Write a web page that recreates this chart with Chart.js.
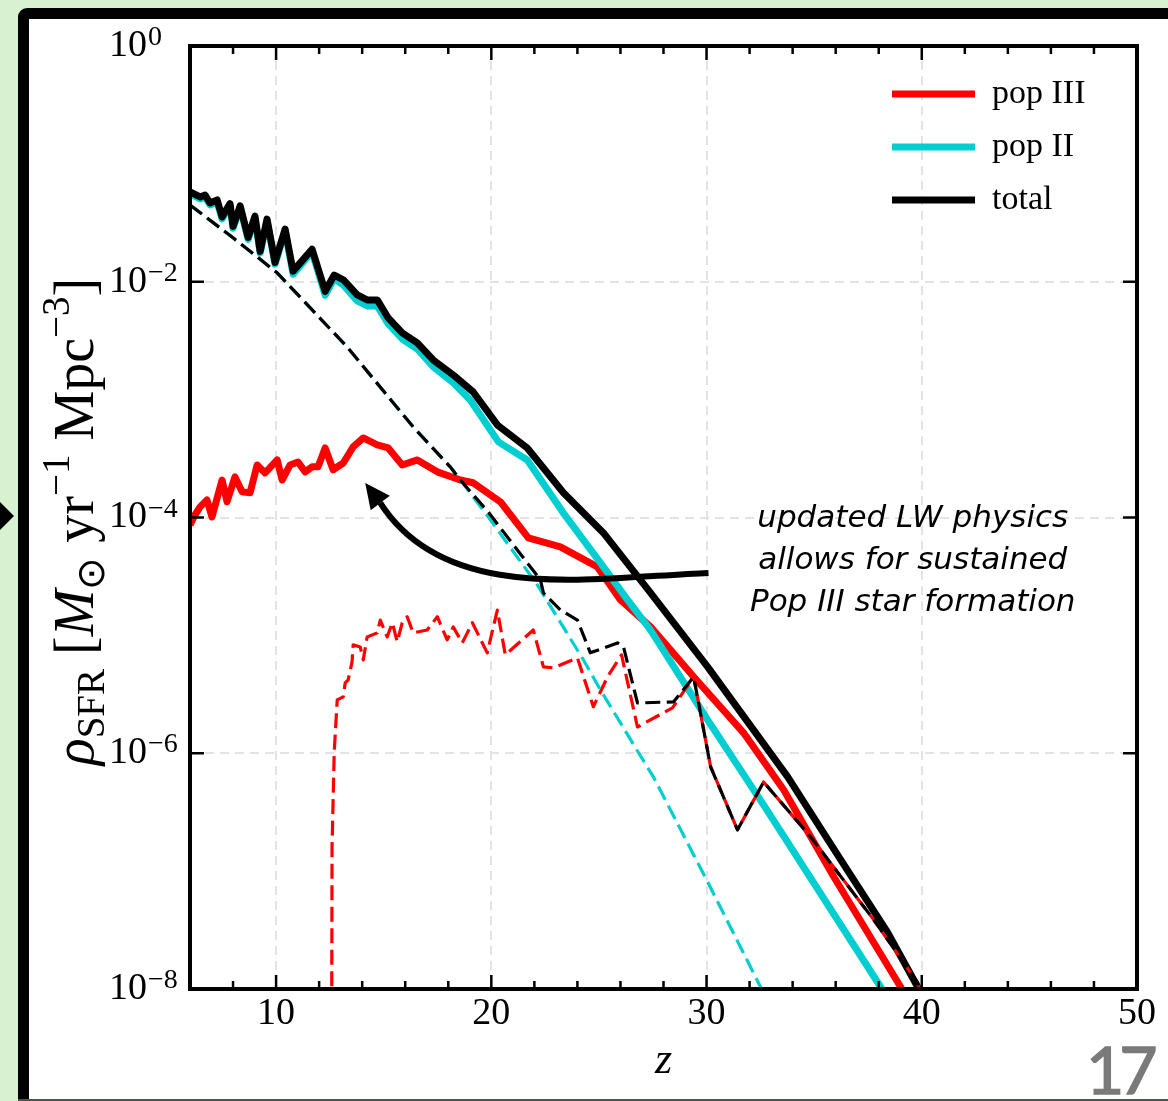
<!DOCTYPE html>
<html><head><meta charset="utf-8">
<script src="https://cdn.jsdelivr.net/npm/chart.js@4.4.1/dist/chart.umd.min.js"></script>
<style>
html,body{margin:0;padding:0;}
body{width:1168px;height:1101px;overflow:hidden;position:relative;background:#d8f1d0;}
#frame{position:absolute;left:18px;top:8px;width:1300px;height:1300px;box-sizing:border-box;border:11px solid #000;border-radius:9px;background:#fff;}
#bline{position:absolute;left:18px;top:1099px;width:1150px;height:2px;background:#4b554b;}
#tri{position:absolute;left:0;top:502px;width:14px;height:28px;background:#000;clip-path:polygon(0 0,100% 50%,0 100%);}
#pg{position:absolute;left:1086px;top:1036px;font:400 66px Lato,sans-serif;letter-spacing:-5px;color:#7a7a7a;line-height:1;-webkit-text-stroke:1.5px #7a7a7a;}
#c{position:absolute;left:0;top:0;}
</style></head><body>
<div id="frame"></div><div id="bline"></div><div id="tri"></div>
<canvas id="c" width="1168" height="1101"></canvas>
<div id="pg">17</div>
<script>
// ---------- data ----------
const popIII_z   = [6.0,6.23,6.47,6.79,7.02,7.49,7.72,8.09,8.42,8.79,9.12,9.49,10.05,10.28,10.65,11.02,11.35,11.67,11.95,12.28,12.65,13.12,13.58,14.05,14.70,15.21,15.86,16.56,17.49,18.56,19.16,20.42,21.72,23.21,24.93,26.0,27.40,29.40,31.72,33.58,35.91,37.49,39.02,39.26];
const popIII_rho = [8.65e-5,1.05e-4,1.23e-4,1.41e-4,1.01e-4,2.08e-4,1.36e-4,2.21e-4,1.65e-4,1.62e-4,2.79e-4,2.39e-4,3.08e-4,2.08e-4,2.79e-4,2.96e-4,2.44e-4,2.69e-4,2.69e-4,3.89e-4,2.54e-4,2.90e-4,3.97e-4,4.73e-4,4.13e-4,3.89e-4,2.79e-4,3.08e-4,2.44e-4,2.08e-4,1.97e-4,1.36e-4,6.71e-5,5.64e-5,3.81e-5,2.00e-5,1.18e-5,4.45e-6,1.49e-6,4.90e-7,8.95e-8,3.00e-8,1.04e-8,8.59e-9];

const popII_z   = [6.0,6.47,6.70,6.93,7.26,7.49,7.86,8.00,8.33,8.70,9.02,9.26,9.58,9.95,10.42,10.79,11.67,12.28,12.70,13.12,13.77,14.23,14.70,15.21,15.86,16.56,17.30,18.23,19.02,20.33,21.67,23.35,25.07,26.33,27.40,30.05,32.74,38.09,38.37];
const popII_rho = [5.56e-2,5.04e-2,5.24e-2,4.48e-2,4.75e-2,3.41e-2,4.42e-2,2.84e-2,4.24e-2,2.29e-2,3.46e-2,1.75e-2,3.27e-2,1.41e-2,2.69e-2,1.16e-2,1.80e-2,7.70e-3,1.06e-2,9.40e-3,6.87e-3,6.24e-3,6.24e-3,4.39e-3,3.27e-3,2.69e-3,1.90e-3,1.39e-3,9.93e-4,4.38e-4,3.08e-4,1.09e-4,4.12e-5,2.00e-5,1.11e-5,1.92e-6,3.44e-7,1.04e-8,8.59e-9];

const total_z   = [6.0,6.47,6.70,6.93,7.26,7.49,7.86,8.00,8.33,8.70,9.02,9.26,9.58,9.95,10.42,10.79,11.67,12.28,12.70,13.12,13.77,14.23,14.70,15.21,15.86,16.56,17.30,18.23,19.16,20.28,21.67,23.35,25.21,27.40,30.05,33.77,36.23,38.42,39.81,40.0];
const total_rho = [5.78e-2,5.24e-2,5.44e-2,4.66e-2,4.94e-2,3.55e-2,4.60e-2,2.95e-2,4.40e-2,2.38e-2,3.60e-2,1.81e-2,3.40e-2,1.46e-2,2.80e-2,1.23e-2,1.89e-2,8.30e-3,1.14e-2,1.04e-2,7.73e-3,7.01e-3,7.01e-3,4.93e-3,3.68e-3,3.03e-3,2.17e-3,1.62e-3,1.16e-3,6.10e-4,3.89e-4,1.62e-4,7.40e-5,2.29e-5,5.41e-6,6.31e-7,1.25e-7,3.00e-8,1.04e-8,8.59e-9];

// dashed comparison model
const popIII_old_z   = [12.58,12.60,12.70,12.84,13.12,13.21,13.35,13.53,13.58,13.91,14.05,14.23,14.70,14.84,15.16,15.40,15.63,15.86,16.09,16.37,17.02,17.49,17.95,18.23,18.65,19.12,19.81,20.28,20.65,21.95,22.42,22.88,24.0,24.74,25.40,26.05,26.79,28.42,29.40,30.19,31.44,32.65,34.84,37.77,39.81,39.95];
const popIII_old_rho = [3.0e-9,1.61e-7,1.01e-6,2.84e-6,3.01e-6,3.95e-6,4.20e-6,5.96e-6,8.30e-6,7.98e-6,6.19e-6,9.70e-6,1.05e-5,1.35e-5,9.70e-6,1.28e-5,8.81e-6,1.28e-5,1.44e-5,1.05e-5,1.11e-5,1.44e-5,9.16e-6,1.18e-5,8.63e-6,1.28e-5,7.11e-6,1.64e-5,6.84e-6,1.11e-5,5.41e-6,5.30e-6,6.44e-6,2.48e-6,4.45e-6,6.84e-6,1.67e-6,2.43e-6,4.45e-6,7.67e-7,2.24e-7,5.71e-7,1.95e-7,3.86e-8,1.13e-8,8.93e-9];

const popII_old_z   = [6.0,8.0,10.05,13.30,16.37,18.09,18.56,19.86,22.14,24.28,25.07,26.84,27.53,30.05,32.51,32.70];
const popII_old_rho = [4.48e-2,2.36e-2,1.19e-2,2.80e-3,5.86e-4,2.69e-4,2.08e-4,1.01e-4,2.68e-5,6.19e-6,3.45e-6,1.01e-6,6.31e-7,8.11e-8,1.04e-8,8.26e-9];

const total_old_z   = [6.0,8.0,10.05,13.30,16.37,18.09,18.56,19.86,21.67,22.28,22.42,23.21,24.0,24.60,25.86,26.14,26.79,28.47,29.40,30.19,31.44,32.65,34.84,37.77,39.81,39.95];
const total_old_rho = [4.48e-2,2.36e-2,1.19e-2,2.80e-3,5.86e-4,2.69e-4,2.08e-4,1.11e-4,4.12e-5,2.96e-5,2.29e-5,1.64e-5,1.35e-5,7.11e-6,8.63e-6,8.00e-6,2.67e-6,2.73e-6,4.45e-6,7.67e-7,2.24e-7,5.71e-7,1.95e-7,3.86e-8,1.13e-8,8.93e-9];

const seriesLabels = ['pop III', 'pop II', 'total'];
const yTickValues  = [1, 1e-2, 1e-4, 1e-6, 1e-8];
const xLabelledTicks = [10, 20, 30, 40, 50];
const xRange = [6, 50];
const yRange = [1e-8, 1];

// annotation (data coordinates)
const noteLines = ['updated LW physics', 'allows for sustained', 'Pop III star formation'];
const noteZ = 39.58;
const noteRho = [8.32e-5, 3.66e-5, 1.61e-5];
const arrowPath = [[30.09, 3.39e-5], [24.60, 3.08e-5], [17.86, 1.82e-5], [14.84, 1.33e-4]];
const arrowTip = [14.14, 1.96e-4];

// y-axis title pieces
const yTitleSegs = [
  {t: 'ρ', it: true}, {t: 'SFR', sc: 0.7, dy: 0.2}, {t: ' ['}, {t: 'M', it: true},
  {t: '⊙', sc: 0.7, dy: 0.2}, {t: ' yr'}, {t: '−1', sc: 0.7, dy: -0.42},
  {t: ' Mpc'}, {t: '−3', sc: 0.7, dy: -0.42}, {t: ']'}
];

// ---------- chart ----------
const SERIF = "'Liberation Serif', serif";
const RED = '#ff0000', CYAN = '#00ced1', BLACK = '#000000';
const pts = (zs, rs) => zs.map((z, i) => ({x: z, y: rs[i]}));

function solid(label, zs, rs, color, order) {
  return {label, data: pts(zs, rs), borderColor: color, backgroundColor: color, borderWidth: 7,
    pointRadius: 0, fill: false, tension: 0, borderJoinStyle: 'round', order, clip: 0};
}
function dashed(label, zs, rs, color, order) {
  return {label, data: pts(zs, rs), borderColor: color, backgroundColor: color, borderWidth: 3.2,
    borderDash: [15, 6.5], pointRadius: 0, fill: false, tension: 0, borderJoinStyle: 'round', order, clip: 0};
}

Chart.defaults.color = '#000';
Chart.defaults.font.family = SERIF;

const decor = {
  id: 'decor',
  afterLayout(chart) {
    const a = chart.chartArea, lg = chart.legend;
    if (lg) { lg.left = a.left + 683; lg.top = a.top + 12; lg.right = a.right; lg.bottom = a.bottom; }
  },
  afterDatasetsDraw(chart) {
    const {ctx, scales: {x: xs, y: ys}} = chart;
    ctx.save();
    const P = arrowPath.map(([z, r]) => [xs.getPixelForValue(z), ys.getPixelForValue(r)]);
    ctx.strokeStyle = '#000'; ctx.fillStyle = '#000'; ctx.lineWidth = 6; ctx.lineCap = 'butt';
    ctx.beginPath(); ctx.moveTo(P[0][0], P[0][1]);
    ctx.bezierCurveTo(P[1][0], P[1][1], P[2][0], P[2][1], P[3][0], P[3][1]); ctx.stroke();
    const T = [xs.getPixelForValue(arrowTip[0]), ys.getPixelForValue(arrowTip[1])];
    const dx = T[0] - P[3][0], dy = T[1] - P[3][1], d = Math.hypot(dx, dy), ux = dx / d, uy = dy / d, hw = 12;
    ctx.beginPath(); ctx.moveTo(T[0], T[1]);
    ctx.lineTo(P[3][0] - uy * hw, P[3][1] + ux * hw);
    ctx.lineTo(P[3][0] + uy * hw, P[3][1] - ux * hw);
    ctx.closePath(); ctx.fill();
    ctx.font = "oblique 31px 'DejaVu Sans', sans-serif"; ctx.textAlign = 'center'; ctx.textBaseline = 'alphabetic';
    const nx = xs.getPixelForValue(noteZ);
    noteLines.forEach((s, i) => ctx.fillText(s, nx, ys.getPixelForValue(noteRho[i])));
    ctx.restore();
  },
  afterDraw(chart) {
    const {ctx, chartArea: a, scales: {x: xs, y: ys}} = chart;
    ctx.save();
    ctx.strokeStyle = '#000'; ctx.fillStyle = '#000';
    ctx.lineWidth = 4;
    ctx.strokeRect(a.left, a.top, a.right - a.left, a.bottom - a.top);
    ctx.lineWidth = 2.5; ctx.beginPath();
    xs.ticks.forEach(t => {
      if (t.value <= xs.min || t.value >= xs.max) return;
      const p = xs.getPixelForValue(t.value), L = t.value % 10 === 0 ? 14 : 8;
      ctx.moveTo(p, a.bottom); ctx.lineTo(p, a.bottom - L);
      ctx.moveTo(p, a.top); ctx.lineTo(p, a.top + L);
    });
    ys.ticks.forEach(t => {
      if (t.value <= ys.min || t.value >= ys.max) return;
      const p = ys.getPixelForValue(t.value);
      ctx.moveTo(a.left, p); ctx.lineTo(a.left + 14, p);
      ctx.moveTo(a.right, p); ctx.lineTo(a.right - 14, p);
    });
    ctx.stroke();
    ctx.font = "28px " + SERIF; ctx.textAlign = 'left'; ctx.textBaseline = 'alphabetic';
    ys.ticks.forEach(t => {
      const e = Math.round(Math.log10(t.value));
      const s = e < 0 ? '\u2212' + (-e) : String(e);
      ctx.fillText(s, a.left - 42, ys.getPixelForValue(t.value) - 1);
    });
    const F = 56;
    ctx.translate(93, (a.top + a.bottom) / 2 + 4);
    ctx.rotate(-Math.PI / 2);
    let W = 0;
    const fontOf = s => (s.it ? 'italic ' : '') + Math.round(F * (s.sc || 1)) + 'px ' + SERIF;
    yTitleSegs.forEach(s => { ctx.font = fontOf(s); s.w = ctx.measureText(s.t).width; W += s.w; });
    let x = -W / 2;
    yTitleSegs.forEach(s => { ctx.font = fontOf(s); ctx.fillText(s.t, x, (s.dy || 0) * F); x += s.w; });
    ctx.restore();
  }
};

new Chart(document.getElementById('c'), {
  type: 'line',
  data: {
    datasets: [
      solid(seriesLabels[0], popIII_z, popIII_rho, RED, 5),
      solid(seriesLabels[1], popII_z, popII_rho, CYAN, 4),
      solid(seriesLabels[2], total_z, total_rho, BLACK, 3),
      dashed(seriesLabels[0] + ' (old LW)', popIII_old_z, popIII_old_rho, RED, 2),
      dashed(seriesLabels[1] + ' (old LW)', popII_old_z, popII_old_rho, CYAN, 1),
      dashed(seriesLabels[2] + ' (old LW)', total_old_z, total_old_rho, BLACK, 0)
    ]
  },
  options: {
    responsive: false, animation: false, devicePixelRatio: 1,
    layout: {padding: {left: 0, right: 31, top: 46, bottom: 0}},
    plugins: {
      tooltip: {enabled: false},
      legend: {
        position: 'chartArea', align: 'start',
        labels: {
          usePointStyle: true, pointStyle: 'line', pointStyleWidth: 83, padding: 19,
          font: {family: SERIF, size: 34}, color: '#000',
          filter: (item, data) => !data.datasets[item.datasetIndex].borderDash,
          sort: (a, b) => a.datasetIndex - b.datasetIndex
        }
      }
    },
    scales: {
      x: {
        type: 'linear', position: 'bottom', min: xRange[0], max: xRange[1],
        ticks: {stepSize: 2, autoSkip: false, maxRotation: 0, minRotation: 0, padding: 2,
          font: {family: SERIF, size: 38}, color: '#000',
          callback: v => xLabelledTicks.includes(v) ? String(v) : ''},
        grid: {drawTicks: false, lineWidth: 2,
          color: c => (c.tick && xLabelledTicks.includes(c.tick.value) && c.tick.value < xRange[1]) ? '#e3e3e3' : 'rgba(0,0,0,0)'},
        border: {display: false, dash: [9, 6]},
        title: {display: true, text: 'z', color: '#000',
          font: {family: SERIF, style: 'italic', size: 44}, padding: {top: 0, bottom: 13}},
        afterFit: s => { s.height = 112; s.paddingLeft = 0; s.paddingRight = 0; }
      },
      y: {
        type: 'logarithmic', position: 'left', min: yRange[0], max: yRange[1],
        afterBuildTicks: s => { s.ticks = yTickValues.map(v => ({value: v})); },
        ticks: {padding: 43, font: {family: SERIF, size: 38}, color: '#000', callback: () => '10'},
        grid: {drawTicks: false, lineWidth: 2,
          color: c => {
            if (!c.tick) return 'rgba(0,0,0,0)';
            const e = Math.round(Math.log10(c.tick.value));
            return (e < 0 && e > -8) ? '#e3e3e3' : 'rgba(0,0,0,0)';
          }},
        border: {display: false, dash: [9, 6]},
        afterFit: s => { s.width = 190; s.paddingTop = 0; s.paddingBottom = 0; }
      }
    }
  },
  plugins: [decor]
});
</script>
</body></html>
